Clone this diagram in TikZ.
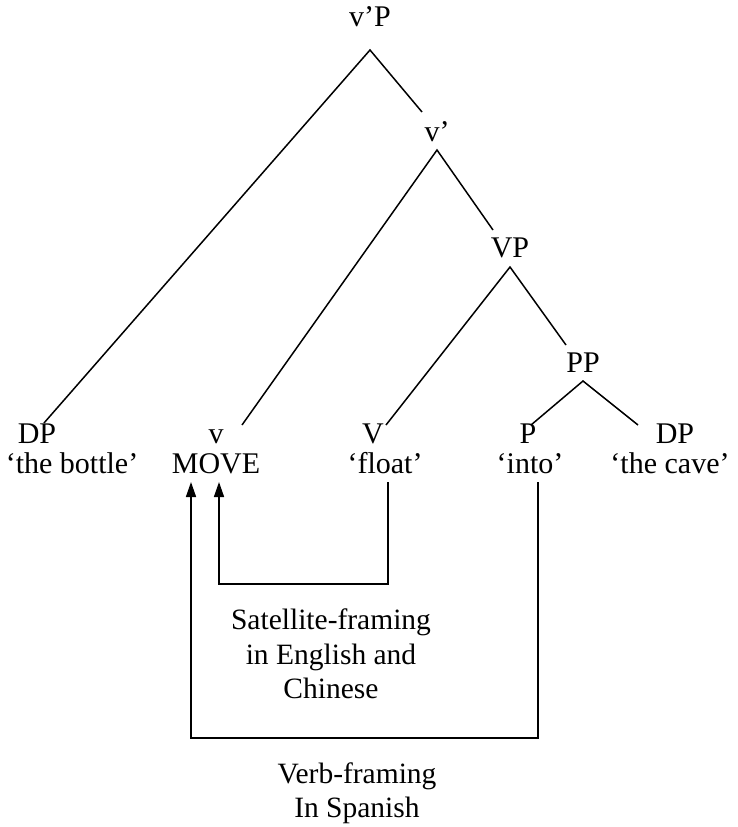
\documentclass[tikz,border=0pt]{standalone}
\usepackage{fontspec}
\setmainfont{Liberation Serif}
\usetikzlibrary{arrows.meta}
\begin{document}
\begin{tikzpicture}[x=1pt,y=-1pt,
  lbl/.style={font=\fontsize{30}{34}\selectfont, inner sep=0pt, anchor=base},
  note/.style={font=\fontsize{29.5}{34.5}\selectfont, inner sep=0pt, align=center},
  branch/.style={line width=1.5pt},
  framing/.style={line width=1.5pt, -{Triangle[length=15pt,width=10pt]}}]
\useasboundingbox (0,0) rectangle (738,827);

% category labels
\node[lbl] (vP)   at (370,26)  {v’P};
\node[lbl] (vbar) at (437,141) {v’};
\node[lbl] (VP)   at (510,257) {VP};
\node[lbl] (PP)   at (583,372) {PP};

% terminals
\node[lbl] (DP1) at (37,443)  {DP};
\node[lbl] (v)   at (216,443) {v};
\node[lbl] (V)   at (373,443) {V};
\node[lbl] (P)   at (528,443) {P};
\node[lbl] (DP2) at (675,443) {DP};
\node[lbl] (bottle) at (72,473)  {‘the bottle’};
\node[lbl] (move)   at (216,473) {MOVE};
\node[lbl] (float)  at (385,473) {‘float’};
\node[lbl] (into)   at (530,473) {‘into’};
\node[lbl] (cave)   at (670,473) {‘the cave’};

% branch end points
\coordinate (vPtop)   at (370,50);
\coordinate (vPleft)  at (44,423);
\coordinate (vPright) at (422,112);
\coordinate (vbartop)   at (437,150);
\coordinate (vbarleft)  at (242,425);
\coordinate (vbarright) at (493,230);
\coordinate (VPtop)   at (510,267);
\coordinate (VPleft)  at (386,425);
\coordinate (VPright) at (566,345);
\coordinate (PPtop)   at (583,381);
\coordinate (PPleft)  at (531,425);
\coordinate (PPright) at (638,425);

\draw[branch] (vPleft) -- (vPtop) -- (vPright);
\draw[branch] (vbarleft) -- (vbartop) -- (vbarright);
\draw[branch] (VPleft) -- (VPtop) -- (VPright);
\draw[branch] (PPleft) -- (PPtop) -- (PPright);

% head movement paths
\coordinate (floatfoot) at (388,482);
\coordinate (innerlow)  at (0,584);
\coordinate (moveB)     at (219,482);
\coordinate (intofoot)  at (538,482);
\coordinate (outerlow)  at (0,738);
\coordinate (moveA)     at (191,482);

\draw[framing] (floatfoot) -- (floatfoot |- innerlow) -| (moveB);
\draw[framing] (intofoot) -- (intofoot |- outerlow) -| (moveA);

\node[note] (sat)  at (331,654) {Satellite-framing\\in English and\\Chinese};
\node[note] (verb) at (357,793) {Verb-framing\\In Spanish};
\end{tikzpicture}
\end{document}
